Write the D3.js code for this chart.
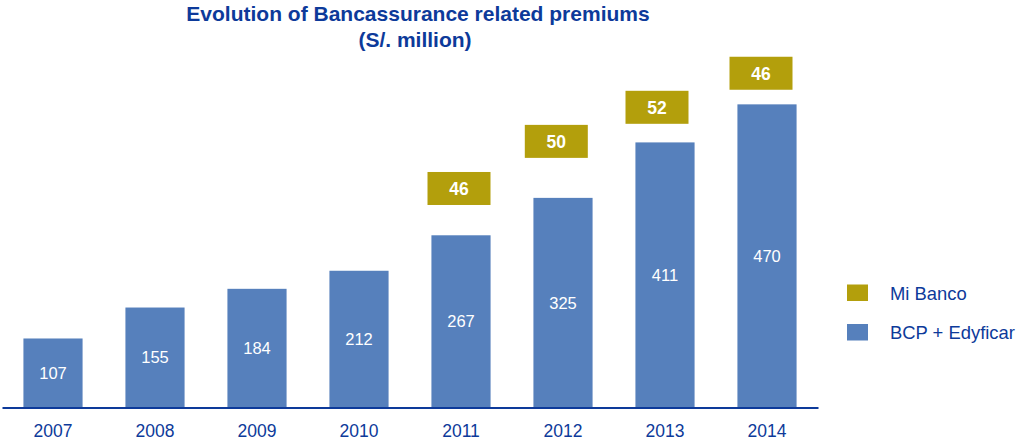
<!DOCTYPE html>
<html>
<head>
<meta charset="utf-8">
<script src="https://cdn.jsdelivr.net/npm/d3@7"></script>
<style>
  html, body { margin: 0; padding: 0; background: #fff; }
  svg { display: block; font-family: Arial, "Liberation Sans", sans-serif; }
</style>
</head>
<body>
<svg id="chart" width="1016" height="440"></svg>
<script>
// Bancassurance premiums, S/. million
const years = ["2007", "2008", "2009", "2010", "2011", "2012", "2013", "2014"];
const bcpEdyficar = [107, 155, 184, 212, 267, 325, 411, 470];
const miBancoYears = ["2011", "2012", "2013", "2014"];
const miBanco = [46, 50, 52, 46];
const seriesNames = ["Mi Banco", "BCP + Edyficar"];

const blue = "#5680bc";
const gold = "#b39f0c";
const navy = "#0d3a9a";

const svg = d3.select("#chart");

const x = d3.scaleBand()
  .domain(years)
  .range([2, 818])
  .paddingInner(0.42)
  .paddingOuter(0.21);

const y = d3.scaleLinear()
  .domain([0, 500])
  .range([407.5, 85]);

// Title
const title = svg.append("text")
  .attr("text-anchor", "middle")
  .attr("fill", navy)
  .attr("font-weight", "bold")
  .attr("font-size", 21);
title.append("tspan").attr("x", 418).attr("y", 21).text("Evolution of Bancassurance related premiums");
title.append("tspan").attr("x", 415).attr("y", 47).text("(S/. million)");

// BCP + Edyficar bars
const bars = svg.append("g");
bars.selectAll("rect")
  .data(years)
  .join("rect")
  .attr("x", d => x(d))
  .attr("width", x.bandwidth())
  .attr("y", (d, i) => y(bcpEdyficar[i]))
  .attr("height", (d, i) => y(0) - y(bcpEdyficar[i]))
  .attr("fill", blue);

bars.selectAll("text")
  .data(years)
  .join("text")
  .attr("x", d => x(d) + x.bandwidth() / 2)
  .attr("y", (d, i) => (y(bcpEdyficar[i]) + y(0)) / 2)
  .attr("dy", "0.36em")
  .attr("text-anchor", "middle")
  .attr("fill", "#fff")
  .attr("font-size", 16.5)
  .text((d, i) => bcpEdyficar[i]);

// Mi Banco value boxes floating above the bars
const boxW = 63, boxH = 33;
const boxShift = [-2, -6.7, -8, -6];   // horizontal nudge from bar centre
const boxGap = [30.3, 40, 18.6, 14.6]; // space between box and bar top
const boxes = svg.append("g");
miBancoYears.forEach((yr, i) => {
  const bi = years.indexOf(yr);
  const cx = x(yr) + x.bandwidth() / 2 + boxShift[i];
  const bottom = y(bcpEdyficar[bi]) - boxGap[i];
  boxes.append("rect")
    .attr("x", cx - boxW / 2)
    .attr("y", bottom - boxH)
    .attr("width", boxW)
    .attr("height", boxH)
    .attr("fill", gold);
  boxes.append("text")
    .attr("x", cx)
    .attr("y", bottom - boxH / 2)
    .attr("dy", "0.36em")
    .attr("text-anchor", "middle")
    .attr("fill", "#fff")
    .attr("font-weight", "bold")
    .attr("font-size", 17.5)
    .text(miBanco[i]);
});

// Category axis
const axis = svg.append("g")
  .attr("transform", `translate(0,${y(0)})`)
  .call(d3.axisBottom(x).tickSize(0).tickPadding(17));
axis.select(".domain").attr("stroke", navy).attr("stroke-width", 2);
axis.selectAll("text")
  .attr("fill", navy)
  .attr("font-size", 17.5)
  .attr("font-family", "Arial, 'Liberation Sans', sans-serif");

// Legend
const legend = svg.append("g");
const legendColors = [gold, blue];
const legendY = [293, 332.5];
seriesNames.forEach((name, i) => {
  legend.append("rect")
    .attr("x", 847)
    .attr("y", legendY[i] - 8.5)
    .attr("width", 21)
    .attr("height", 16.5)
    .attr("fill", legendColors[i]);
  legend.append("text")
    .attr("x", 890)
    .attr("y", legendY[i])
    .attr("dy", "0.36em")
    .attr("fill", navy)
    .attr("font-size", 18.4)
    .text(name);
});
</script>
</body>
</html>
